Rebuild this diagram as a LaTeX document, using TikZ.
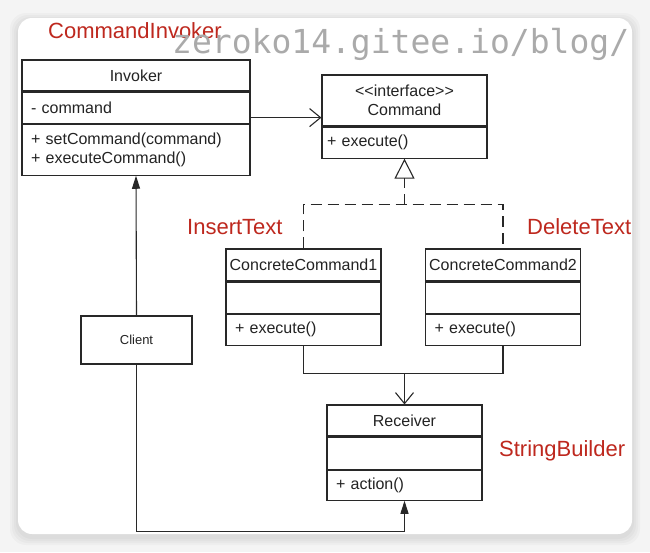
\documentclass[tikz,border=0pt]{standalone}
\usepackage{fontspec}
\setmainfont{Liberation Sans}
\newfontfamily\markfont{DejaVu Sans Mono}
\usetikzlibrary{shapes,arrows.meta,positioning,calc}

\begin{document}
\begin{tikzpicture}[x=1pt, y=-1pt,
        box/.style={draw=linegray, line width=1.1pt, fill=white, inner sep=0pt, text=textgray,
            font=\fontsize{16}{18.5}\selectfont},
        title/.style={box, align=center},
        member/.style={box, align=left, inner xsep=9pt},
        tag/.style={font=\fontsize{22}{24}\selectfont, text=labelred, anchor=west, inner sep=0pt},
        conn/.style={draw=linegray, line width=1.1pt},
        assoc/.style={conn, -{Straight Barb[length=11pt, width=18pt]}},
        realize/.style={conn, dash pattern=on 11pt off 6pt},
        uses/.style={conn, -{Triangle[length=13pt, width=8pt]}}]
    \definecolor{linegray}{RGB}{40,40,40}
    \definecolor{textgray}{RGB}{35,35,35}
    \definecolor{labelred}{RGB}{190,40,30}
    \definecolor{markgray}{RGB}{170,170,170}
    \definecolor{pagegray}{RGB}{244,244,244}

    % page, shadow and white card
    \useasboundingbox (0,0) rectangle (650,552);
    \fill[pagegray] (0,0) rectangle (650,552);
    \foreach \d in {8,6,4,2}
        \fill[black, opacity=0.025, rounded corners=16pt] (18-\d,18-\d+3) rectangle (632+\d,534+\d+3);
    \fill[white, rounded corners=14pt] (18,18) rectangle (632,534);

    % Invoker class
    \node[title, minimum width=228pt, minimum height=31pt] (inv-t) at (136,75.5) {Invoker};
    \node[member, text width=210pt, minimum height=31pt, below=0pt of inv-t] (inv-a) {- command};
    \node[member, text width=210pt, minimum height=51pt, below=0pt of inv-a] (inv-m) {+ setCommand(command)\\+ executeCommand()};

    % Command interface
    \node[title, minimum width=165pt, minimum height=51pt] (cmd-t) at (404.5,100.5) {<{}<interface>{}>\\Command};
    \node[member, inner xsep=5pt, text width=155pt, minimum height=31pt, below=0pt of cmd-t] (cmd-m) {+ execute()};

    % concrete commands
    \node[title, minimum width=155pt, minimum height=32pt] (cc1-t) at (303.5,265) {ConcreteCommand1};
    \node[member, text width=137pt, minimum height=31pt, below=0pt of cc1-t] (cc1-a) {};
    \node[member, text width=137pt, minimum height=31pt, below=0pt of cc1-a] (cc1-m) {+ execute()};

    \node[title, minimum width=155pt, minimum height=32pt] (cc2-t) at (503,265) {ConcreteCommand2};
    \node[member, text width=137pt, minimum height=31pt, below=0pt of cc2-t] (cc2-a) {};
    \node[member, text width=137pt, minimum height=31pt, below=0pt of cc2-a] (cc2-m) {+ execute()};

    % Receiver class
    \node[title, minimum width=155pt, minimum height=31pt] (rcv-t) at (404.5,420.5) {Receiver};
    \node[member, text width=137pt, minimum height=32pt, below=0pt of rcv-t] (rcv-a) {};
    \node[member, text width=137pt, minimum height=30pt, below=0pt of rcv-a] (rcv-m) {+ action()};

    % Client
    \node[box, font=\fontsize{13}{15}\selectfont, minimum width=111pt, minimum height=48pt] (client) at (136.5,340) {Client};

    % red notes
    \node[tag] (n-inv) at (48,31) {CommandInvoker};
    \node[tag] (n-ins) at (187,227) {InsertText};
    \node[tag] (n-del) at (527,227) {DeleteText};
    \node[tag] (n-sb) at (499,451) {StringBuilder};

    % connectors
    \coordinate (hold) at ($(inv-t.north east)!0.5!(inv-m.south east)$);
    \draw[assoc] (hold) -- (hold -| cmd-t.west);

    \coordinate (split) at ($(cmd-m.south)+(0,46)$);
    \draw[realize] (cc1-t.north) |- (split) -| (cc2-t.north);
    \draw[realize, -{Triangle[open, length=20pt, width=20pt]}] (split) -- (cmd-m.south);

    \coordinate (join) at ($(rcv-t.north)+(0,-31)$);
    \draw[conn] (cc1-m.south) |- (join) -| (cc2-m.south);
    \draw[assoc] (join) -- (rcv-t.north);

    \draw[uses] (client.north) -- (inv-m.south);
    \draw[uses] (client.south) |- ($(rcv-m.south)+(0,31)$) -- (rcv-m.south);

    % watermark
    \node[font=\markfont\fontsize{33}{36}\selectfont, text=markgray, anchor=base west, inner sep=0pt] (mark) at (172,53) {zeroko14.gitee.io/blog/};
\end{tikzpicture}
\end{document}
